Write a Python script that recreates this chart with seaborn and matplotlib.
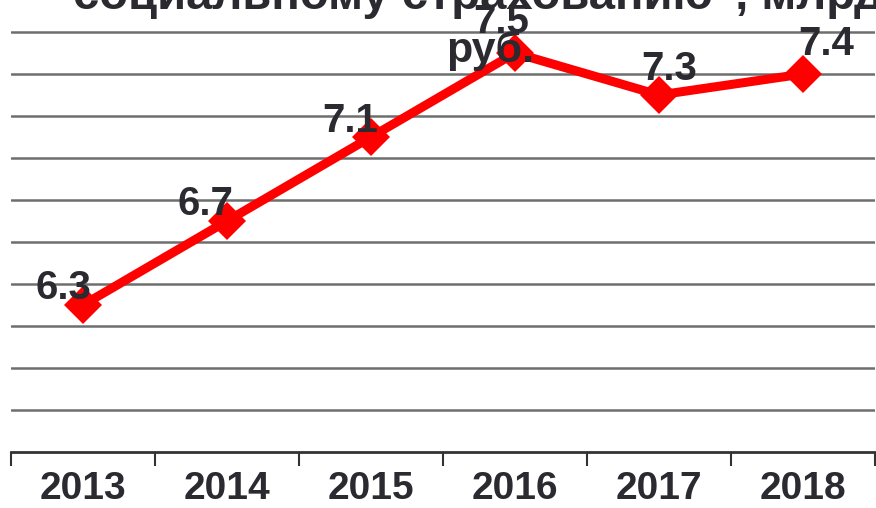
import matplotlib
matplotlib.use("Agg")
import matplotlib.pyplot as plt
import seaborn as sns
import numpy as np
import pandas as pd

years = ["2013", "2014", "2015", "2016", "2017", "2018"]
values = [6.3, 6.7, 7.1, 7.5, 7.3, 7.4]
value_labels = ["6.3", "6.7", "7.1", "7.5", "7.3", "7.4"]
title_line1 = 'социальному страхованию", млрд'
title_line2 = "руб."

# label offsets in pixels (dx right, dy up)
label_offsets = [(-20, 17), (-22, 17), (-21, 16), (-14, 31), (10, 26), (23, 30)]

sns.set_theme(style="white")
plt.rcParams["font.family"] = ["Liberation Sans", "DejaVu Sans"]

W, H, DPI = 876, 508, 100
fig = plt.figure(figsize=(W / DPI, H / DPI), dpi=DPI)
ax_left = 11 / W
ax_bottom = 56 / H
ax_width = 864 / W
ax_height = 462 / H
ax = fig.add_axes([ax_left, ax_bottom, ax_width, ax_height])

df = pd.DataFrame({"pos": np.arange(len(years)), "value": values})
sns.lineplot(data=df, x="pos", y="value", ax=ax, color="#ff0000", linewidth=6.5,
             marker="D", markersize=19, markeredgewidth=0, markerfacecolor="#ff0000", zorder=3)

ax.set_xlim(-0.5, len(years) - 0.5)
ax.set_ylim(5.6, 7.8)
ax.set_yticks(np.arange(5.8, 7.61, 0.2))
ax.yaxis.grid(True, color="#6e6e6e", linewidth=1.8)
ax.xaxis.grid(False)
ax.tick_params(axis="y", left=False, labelleft=False)

ax.set_xticks(np.arange(len(years)))
ax.set_xticklabels(years, fontsize=28, fontweight="bold", color="#2a2a30")
ax.set_xticks(np.arange(-0.5, len(years)), minor=True)
ax.tick_params(axis="x", which="major", length=0, pad=14)
ax.tick_params(axis="x", which="minor", length=10, width=1.5, color="#333333", direction="out", bottom=True)

for s in ["top", "left", "right"]:
    ax.spines[s].set_visible(False)
ax.spines["bottom"].set_color("#333333")
ax.spines["bottom"].set_linewidth(2)

ax.set_xlabel("")
ax.set_ylabel("")

for i, (lab, (dx, dy)) in enumerate(zip(value_labels, label_offsets)):
    ax.annotate(lab, xy=(i, values[i]), xytext=(dx * 0.72, dy * 0.72), textcoords="offset points",
                ha="center", va="center", fontsize=29, fontweight="bold", color="#2a2a30", zorder=4)

fig.text(73 / W, (H - 9) / H, title_line1, ha="left", va="baseline",
         fontsize=34, fontweight="bold", color="#2a2a30")
fig.text(490 / W, (H - 62) / H, title_line2, ha="center", va="baseline",
         fontsize=31, fontweight="bold", color="#2a2a30", zorder=5)

fig.savefig("out.png", dpi=DPI)
